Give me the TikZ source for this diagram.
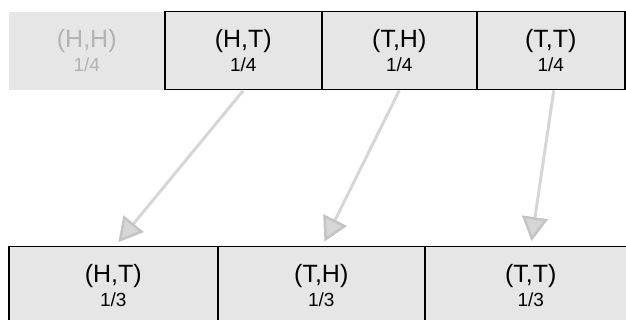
\documentclass[tikz,border=0pt]{standalone}
\usepackage{fontspec}
\setmainfont{Liberation Sans}
\usetikzlibrary{arrows.meta}
\definecolor{cellfill}{HTML}{E6E6E6}
\definecolor{fadetext}{HTML}{B3B3B3}
\definecolor{arrowline}{HTML}{D6D6D6}
\definecolor{arrowedge}{HTML}{C4C4C4}
\newcommand\probsize{\fontsize{19}{22}\selectfont}
\tikzset{
  cell/.style={draw=black, line width=1.5pt, fill=cellfill, inner sep=0pt,
    anchor=north west, align=center, font=\fontsize{25}{28}\selectfont},
  fadedcell/.style={cell, draw=none, text=fadetext},
  flow/.style={draw=arrowline, line width=3pt, shorten >=5pt,
    -{Triangle[open, length=24pt, width=26pt, line width=2.5pt, fill=arrowline, color=arrowedge]}}
}
\begin{document}
\begin{tikzpicture}[x=1pt,y=-1pt]
\useasboundingbox (0,0) rectangle (626,320);
\begin{scope}
\clip (0,0) rectangle (626,320);
\node[fadedcell, minimum width=156pt, minimum height=78pt] (hh) at (8,11)
  {(H,H)\\[-4pt]{\probsize 1/4}};
\node[cell, minimum width=157pt, minimum height=78pt] (ht) at (164,11)
  {(H,T)\\[-4pt]{\probsize 1/4}};
\node[cell, minimum width=155pt, minimum height=78pt] (th) at (321,11)
  {(T,H)\\[-4pt]{\probsize 1/4}};
\node[cell, minimum width=148pt, minimum height=78pt] (tt) at (476,11)
  {(T,T)\\[-4pt]{\probsize 1/4}};
\node[cell, minimum width=209pt, minimum height=100pt, text depth=22pt] (ht2) at (8,246)
  {(H,T)\\[-4pt]{\probsize 1/3}};
\node[cell, minimum width=207pt, minimum height=100pt, text depth=22pt] (th2) at (217,246)
  {(T,H)\\[-4pt]{\probsize 1/3}};
\node[cell, minimum width=212pt, minimum height=100pt, text depth=22pt] (tt2) at (424,246)
  {(T,T)\\[-4pt]{\probsize 1/3}};
\end{scope}
\draw[flow] (ht.south) -- ([xshift=2pt]ht2.north);
\draw[flow] (th.south) -- ([xshift=1pt]th2.north);
\draw[flow] ([xshift=3pt]tt.south) -- (tt2.north);
\end{tikzpicture}
\end{document}
